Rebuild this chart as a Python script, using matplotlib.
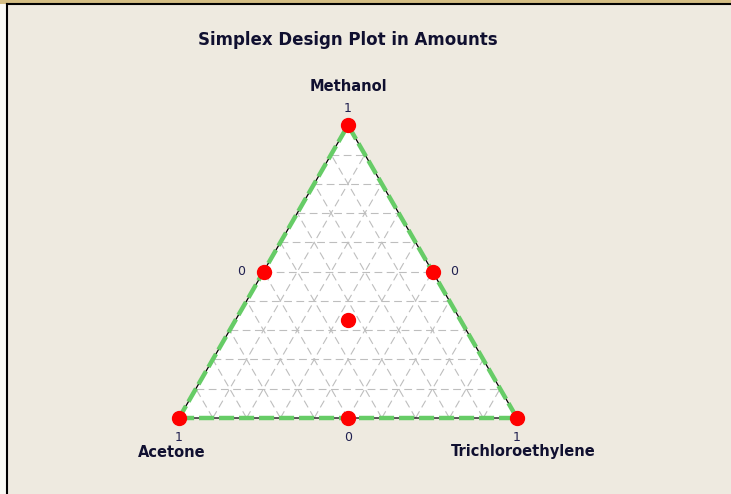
import numpy as np
import matplotlib
matplotlib.use("Agg")
import matplotlib.pyplot as plt
from matplotlib.patches import Rectangle, Polygon

# design points as (Acetone, Trichloroethylene, Methanol) fractions
acetone = [1, 0, 0, 0.5, 0.5, 0, 1 / 3]
trichloro = [0, 1, 0, 0.5, 0, 0.5, 1 / 3]
methanol = [0, 0, 1, 0, 0.5, 0.5, 1 / 3]
point_labels = ["1", "1", "1", "0", "0", "0", ""]

components = ["Acetone", "Trichloroethylene", "Methanol"]
grid_levels = [i / 10 for i in range(1, 10)]

H = np.sqrt(3) / 2


def to_xy(a, t, m):
    a, t, m = np.asarray(a), np.asarray(t), np.asarray(m)
    return t + m / 2, m * H


W, Hpx = 731, 494
scale = 338.0          # pixels per unit side
x0, y0 = 179, 418      # pixel position of the Acetone vertex

fig = plt.figure(figsize=(W / 100, Hpx / 100), dpi=100)
fig.patch.set_facecolor("#EEEAE0")

# window frame
fig.add_artist(Rectangle((0, 1 - 4 / Hpx), 1, 4 / Hpx, transform=fig.transFigure,
                         facecolor="#D4BE84", edgecolor="none"))
fig.add_artist(Rectangle((0, 0), 6 / W, 1 - 4 / Hpx, transform=fig.transFigure,
                         facecolor="#FAFAF5", edgecolor="none"))
fig.add_artist(plt.Line2D([6.5 / W, 1], [1 - 4.5 / Hpx, 1 - 4.5 / Hpx],
                          transform=fig.transFigure, color="black", lw=1.5))
fig.add_artist(plt.Line2D([6.5 / W, 6.5 / W], [0, 1 - 4.5 / Hpx],
                          transform=fig.transFigure, color="black", lw=1.5))

ax = fig.add_axes([0, 0, 1, 1])
ax.set_xlim(-x0 / scale, (W - x0) / scale)
ax.set_ylim(-(Hpx - y0) / scale, y0 / scale)
ax.axis("off")

# triangle fill
verts = np.column_stack(to_xy([1, 0, 0], [0, 1, 0], [0, 0, 1]))
ax.add_patch(Polygon(verts, closed=True, facecolor="white", edgecolor="none", zorder=1))

# dashed grid in three directions
grid_kw = dict(color="#BEBEBE", lw=0.8, ls=(0, (7, 4)), zorder=2)
for g in grid_levels:
    xs, ys = to_xy([g, g], [1 - g, 0], [0, 1 - g])
    ax.plot(xs, ys, **grid_kw)
    xs, ys = to_xy([1 - g, 0], [g, g], [0, 1 - g])
    ax.plot(xs, ys, **grid_kw)
    xs, ys = to_xy([1 - g, 0], [0, 1 - g], [g, g])
    ax.plot(xs, ys, **grid_kw)

# edges
closed = np.vstack([verts, verts[:1]])
ax.plot(closed[:, 0], closed[:, 1], color="black", lw=0.9, zorder=3)
ax.plot(closed[:, 0], closed[:, 1], color="#66CC66", lw=3.2,
        ls=(0, (3.4, 1.1)), zorder=4)

# design points
px, py = to_xy(acetone, trichloro, methanol)
ax.plot(px, py, "o", color="red", ms=10, mec="red", zorder=5, clip_on=False)

num_kw = dict(fontsize=9, color="#202050", zorder=6)
for x, y, lab, a, t, m in zip(px, py, point_labels, acetone, trichloro, methanol):
    if not lab:
        continue
    if m == 1:
        ax.text(x, y + 17 / scale, lab, ha="center", va="center", **num_kw)
    elif m == 0:
        ax.text(x, y - 19 / scale, lab, ha="center", va="center", **num_kw)
    elif a > 0:
        ax.text(x - 18 / scale, y, lab, ha="right", va="center", **num_kw)
    else:
        ax.text(x + 18 / scale, y, lab, ha="left", va="center", **num_kw)

lab_kw = dict(fontsize=10.5, fontweight="bold", color="#101030")
ax.text(verts[2, 0], verts[2, 1] + 39 / scale, components[2], ha="center", va="center", **lab_kw)
ax.text(verts[0, 0] - 7 / scale, verts[0, 1] - 34 / scale, components[0], ha="center", va="center", **lab_kw)
ax.text(verts[1, 0] + 6 / scale, verts[1, 1] - 33 / scale, components[1], ha="center", va="center", **lab_kw)

fig.text(348 / W, 1 - 40 / Hpx, "Simplex Design Plot in Amounts", ha="center", va="center",
         fontsize=12, fontweight="bold", color="#101030")

fig.savefig("out.png", dpi=100, facecolor=fig.get_facecolor())
